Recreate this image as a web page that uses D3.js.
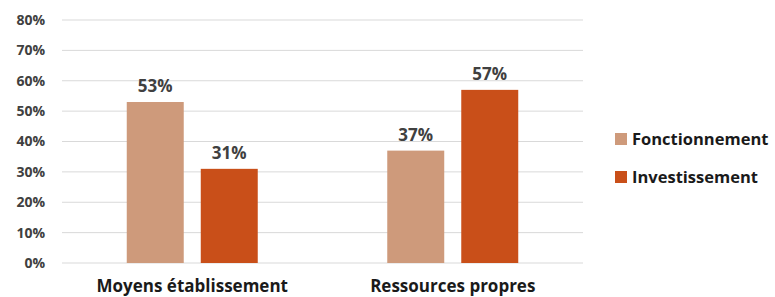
<!DOCTYPE html>
<html>
<head>
<meta charset="utf-8">
<script src="https://cdn.jsdelivr.net/npm/d3@7"></script>
<style>
  body { margin: 0; background: #fff; }
  svg { display: block; font-family: "Open Sans", sans-serif; font-weight: bold; }
</style>
</head>
<body>
<svg id="chart" width="775" height="297"></svg>
<script>
const categories = ["Moyens établissement", "Ressources propres"];
const series = ["Fonctionnement", "Investissement"];
const fonctionnement = [53, 37];
const investissement = [31, 57];
const yTicks = [0, 10, 20, 30, 40, 50, 60, 70, 80];
const colors = ["#CE9A7B", "#C94F19"];

const values = [fonctionnement, investissement];
const svg = d3.select("#chart");

// scales
let x = d3.scaleBand()
    .domain(categories)
    .range([62, 583])
    .paddingInner(0)
    .paddingOuter(0);

let xInner = d3.scaleBand()
    .domain(series)
    .range([0, x.bandwidth()])
    .paddingInner(0.23)
    .paddingOuter(0.875);

let y = d3.scaleLinear()
    .domain([0, 80])
    .range([263, 20]);

// gridlines
svg.append("g")
    .selectAll("line")
    .data(yTicks)
    .enter().append("line")
        .attr("x1", 62)
        .attr("x2", 583)
        .attr("y1", d => y(d))
        .attr("y2", d => y(d))
        .attr("stroke", "#d9d9d9")
        .attr("stroke-width", 1);

// y axis labels
let yAxis = svg.append("g")
    .attr("transform", "translate(45, 0)")
    .call(d3.axisLeft(y).tickValues(yTicks).tickFormat(d => d + "%").tickSize(0).tickPadding(0));
yAxis.select(".domain").remove();
yAxis.selectAll("text")
    .style("font-family", "'Open Sans', sans-serif")
    .style("font-weight", "bold")
    .style("font-size", "14px")
    .attr("fill", "#404040");

// bars
series.forEach(function(s, i) {
    let g = svg.append("g");
    g.selectAll("rect")
        .data(categories)
        .enter().append("rect")
            .attr("x", d => x(d) + xInner(s))
            .attr("width", xInner.bandwidth())
            .attr("y", (d, j) => y(values[i][j]))
            .attr("height", (d, j) => y(0) - y(values[i][j]))
            .attr("fill", colors[i]);

    // value labels
    g.selectAll("text")
        .data(categories)
        .enter().append("text")
            .attr("x", d => x(d) + xInner(s) + xInner.bandwidth() / 2)
            .attr("y", (d, j) => y(values[i][j]) - 10)
            .attr("text-anchor", "middle")
            .attr("fill", "#404040")
            .style("font-size", "17px")
            .text((d, j) => values[i][j] + "%");
});

// category labels
let xAxis = svg.append("g")
    .attr("transform", "translate(0, 263)")
    .call(d3.axisBottom(x).tickSize(0).tickPadding(0));
xAxis.select(".domain").remove();
xAxis.selectAll("text")
    .attr("dy", 0)
    .attr("y", 29)
    .style("font-family", "'Open Sans', sans-serif")
    .style("font-weight", "bold")
    .style("font-size", "17px")
    .attr("fill", "#1a1a1a");

// legend
let legend = svg.append("g")
    .selectAll("g")
    .data(series)
    .enter().append("g")
        .attr("transform", (d, i) => `translate(615, ${145 + i * 38})`);
legend.append("rect")
    .attr("x", 0)
    .attr("y", -12)
    .attr("width", 12)
    .attr("height", 12)
    .attr("fill", (d, i) => colors[i]);
legend.append("text")
    .attr("x", 17)
    .attr("y", 0)
    .attr("fill", "#1a1a1a")
    .style("font-size", "16.5px")
    .text(d => d);
</script>
</body>
</html>
